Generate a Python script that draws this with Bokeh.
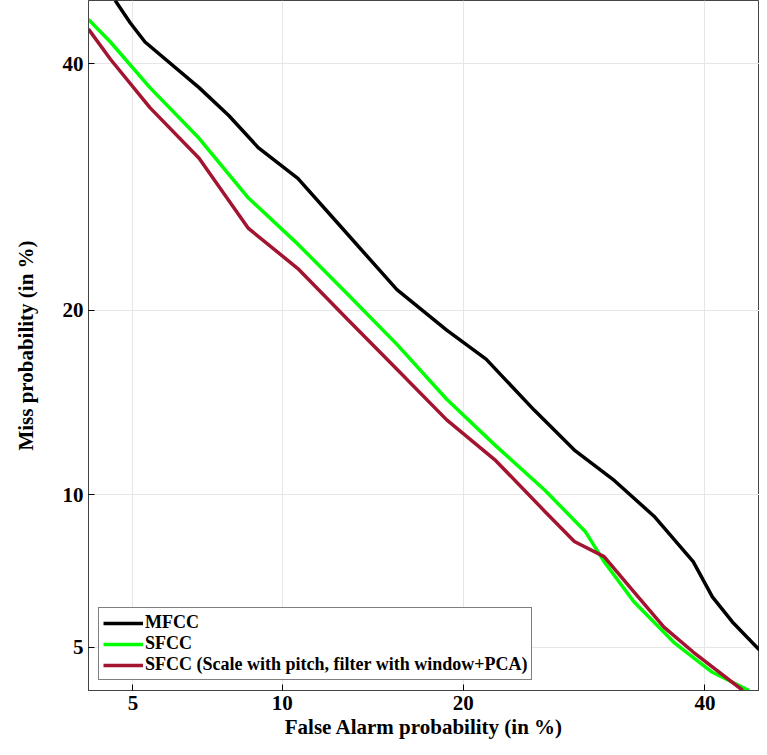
import math
from bokeh.plotting import figure
from bokeh.models import FixedTicker, Range1d, Legend, LegendItem
from bokeh.embed import file_html
from bokeh.resources import INLINE

# DET curves, values in percent
mfcc_fa = [4.57, 4.93, 5.31, 6.89, 7.90, 9.01, 10.68, 12.58, 15.8, 18.9, 21.6, 25.2, 28.4, 31.8, 35.3, 38.9, 40.7, 42.6, 45.2]
mfcc_miss = [45.9, 43.8, 42.0, 37.8, 35.3, 32.5, 29.9, 26.3, 21.4, 18.7, 16.9, 14.0, 12.0, 10.6, 9.13, 7.48, 6.36, 5.65, 4.93]
sfcc_fa = [3.98, 4.46, 5.44, 6.89, 8.63, 10.68, 13.07, 15.8, 18.9, 22.3, 26.0, 29.3, 30.9, 33.5, 37.1, 40.7, 44.2]
sfcc_miss = [44.1, 42.0, 37.8, 33.3, 28.3, 24.7, 21.1, 17.8, 14.6, 12.2, 10.2, 8.55, 7.48, 6.22, 5.12, 4.41, 4.02]
pca_fa = [3.98, 4.46, 5.44, 6.89, 8.63, 10.68, 13.07, 15.8, 18.9, 22.3, 26.0, 28.4, 30.9, 33.5, 36.2, 38.9, 43.6]
pca_miss = [43.2, 40.4, 36.0, 31.6, 25.9, 22.9, 19.4, 16.3, 13.5, 11.5, 9.33, 8.18, 7.65, 6.51, 5.51, 4.88, 4.02]
ticks = [5, 10, 20, 40]


def probit(pct):
    p = pct / 100.0
    lo, hi = -8.0, 8.0
    for _ in range(80):
        mid = (lo + hi) / 2
        if 0.5 * (1 + math.erf(mid / math.sqrt(2))) < p:
            lo = mid
        else:
            hi = mid
    return (lo + hi) / 2


def conv(vals):
    return [probit(v) for v in vals]


font = "Liberation Serif"
p = figure(width=759, height=741, output_backend="svg", toolbar_location=None,
           x_range=Range1d(probit(3.98), probit(45.2)),
           y_range=Range1d(probit(4.02), probit(45.9)),
           min_border_left=88, min_border_right=0, min_border_top=0, min_border_bottom=10)

tpos = conv(ticks)
for ax in (p.xaxis, p.yaxis):
    ax.ticker = FixedTicker(ticks=tpos)
    ax.major_label_overrides = {t: str(v) for t, v in zip(tpos, ticks)}
    ax.major_label_text_font = font
    ax.major_label_text_font_style = "bold"
    ax.major_label_text_font_size = "21px"
    ax.major_label_text_color = "black"
    ax.axis_label_text_font = font
    ax.axis_label_text_font_style = "bold"
    ax.axis_label_text_font_size = "21px"
    ax.axis_label_text_color = "black"
    ax.major_tick_in = 6
    ax.major_tick_out = 0
    ax.minor_tick_line_color = None
    ax.axis_line_color = "#444444"
p.xaxis.axis_label = "False Alarm probability (in %)"
p.yaxis.axis_label = "Miss probability (in %)"
p.xaxis.axis_label_standoff = 2
p.yaxis.axis_label_standoff = 22
p.yaxis.major_label_orientation = "horizontal"
p.grid.grid_line_color = "#e6e6e6"
p.outline_line_color = "#444444"

r1 = p.line(conv(mfcc_fa), conv(mfcc_miss), line_color="black", line_width=3.5)
r2 = p.line(conv(sfcc_fa), conv(sfcc_miss), line_color="#00ff00", line_width=3.5)
r3 = p.line(conv(pca_fa), conv(pca_miss), line_color="#a2142f", line_width=3.5)

legend = Legend(items=[
    LegendItem(label="MFCC", renderers=[r1]),
    LegendItem(label="SFCC", renderers=[r2]),
    LegendItem(label="SFCC (Scale with pitch, filter with window+PCA)", renderers=[r3]),
], location="bottom_left")
legend.label_text_font = font
legend.label_text_font_style = "bold"
legend.label_text_font_size = "18px"
legend.label_text_color = "black"
legend.border_line_color = "black"
legend.border_line_width = 1.5
legend.spacing = -2
legend.padding = 4
legend.margin = 10
legend.glyph_width = 40
legend.label_standoff = 2
p.add_layout(legend)

open("out.html", "w").write(file_html(p, INLINE))
